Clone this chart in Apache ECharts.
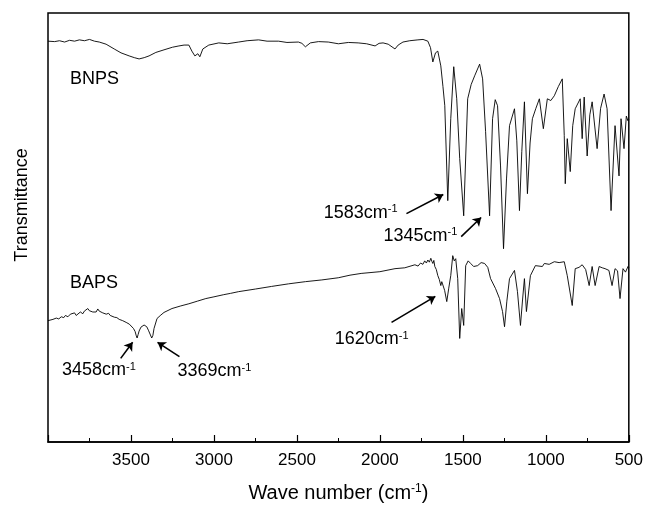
<!DOCTYPE html>
<html>
<head>
<meta charset="utf-8">
<script src="https://cdn.jsdelivr.net/npm/echarts@6/dist/echarts.min.js"></script>
<style>html,body{margin:0;padding:0;background:#fff}#c{width:646px;height:508px}</style>
</head>
<body>
<div id="c"></div>
<script>
// ---- Data (wavenumber in cm-1, transmittance in arbitrary units) ----
const bnpsWave = [4000,3960,3931,3900,3870,3840,3811,3780,3750,3720,3691,3650,3601,3560,3511,3480,3451,3420,3391,3350,3301,3250,3211,3180,3151,3133,3115,3097,3085,3067,3031,2971,2920,2851,2800,2731,2680,2611,2560,2491,2470,2449,2419,2370,2311,2250,2190,2131,2080,2029,2005,1981,1950,1909,1890,1861,1820,1771,1740,1711,1695,1681,1665,1651,1633,1620,1609,1591,1573,1555,1537,1519,1495,1471,1450,1429,1399,1381,1363,1339,1321,1305,1291,1273,1255,1237,1219,1189,1175,1159,1145,1129,1111,1095,1081,1060,1039,1015,991,970,949,925,901,889,883,871,853,838,823,793,781,769,751,735,721,691,670,649,631,607,583,559,547,529,515,505,500];
const bnpsT    = [93.5,93.4,93.6,93.3,93.7,93.5,93.8,93.6,93.9,93.5,93.3,92.8,91.7,90.8,90.1,89.7,89.4,89.7,90.1,90.9,91.5,92.1,92.4,92.6,92.6,91.2,90.1,90.6,89.9,91.7,92.6,93.1,92.9,93.3,93.6,93.8,93.5,93.5,93.2,93.3,93.0,92.2,93.1,93.4,93.3,92.9,93.2,93.1,92.9,92.4,93.0,93.1,92.8,91.7,92.6,93.3,93.6,93.8,93.9,93.5,92.0,88.7,90.8,91.2,87.8,83.0,78.6,56.7,75.6,87.6,80.2,66.4,53.2,80.2,83.5,85.5,88.2,84.8,72.6,53.2,75.6,80.0,78.6,64.7,45.6,61.7,74.0,77.9,70.5,54.4,68.0,79.5,58.3,70.0,75.6,78.0,80.2,73.3,80.2,79.8,80.9,83.0,84.8,71.7,60.6,71.0,63.4,74.0,77.9,80.2,71.0,80.6,67.0,76.5,79.5,68.7,78.0,81.3,77.9,54.4,74.0,62.4,75.6,68.7,76.2,75.1,75.4];

const bapsWave = [4000,3990,3970,3950,3935,3920,3905,3895,3880,3865,3853,3840,3830,3820,3805,3790,3781,3770,3760,3751,3740,3730,3721,3710,3700,3691,3680,3670,3660,3649,3635,3625,3613,3600,3585,3571,3550,3529,3510,3499,3485,3475,3468,3463,3457,3451,3440,3421,3405,3395,3385,3375,3368,3361,3343,3320,3301,3253,3200,3151,3100,3049,3000,2941,2900,2851,2750,2653,2550,2449,2350,2251,2180,2113,2000,1909,1850,1789,1770,1755,1741,1730,1720,1711,1702,1693,1687,1681,1675,1669,1660,1651,1642,1633,1627,1621,1610,1597,1585,1573,1561,1552,1543,1531,1519,1507,1495,1483,1468,1453,1435,1411,1390,1369,1350,1333,1303,1279,1261,1249,1235,1219,1189,1171,1153,1140,1129,1117,1093,1063,1021,1009,980,949,920,889,871,841,823,800,781,760,739,721,703,679,660,643,620,601,583,568,553,535,520,505,500];
const bapsT    = [29.0,29.1,29.3,29.6,29.4,29.9,29.7,30.2,29.9,30.5,30.3,30.8,30.2,30.6,31.0,30.6,31.2,31.0,31.8,31.3,31.6,31.0,31.4,31.0,31.7,31.2,31.4,30.8,31.1,30.5,30.7,30.2,30.4,29.8,29.7,29.3,29.0,28.6,28.2,27.8,27.2,26.5,25.5,25.0,25.8,26.6,27.5,28.0,27.6,26.8,25.9,25.0,25.6,27.2,29.5,30.3,30.9,31.8,32.4,32.9,33.5,34.1,34.5,35.0,35.3,35.7,36.3,36.9,37.5,38.0,38.4,38.9,39.5,39.9,40.3,41.0,41.2,41.9,41.6,42.3,42.0,42.8,42.3,43.0,42.5,43.4,42.7,42.2,42.9,41.5,40.8,39.4,38.5,37.1,38.0,37.6,36.0,33.4,36.5,39.4,44.0,42.8,43.3,38.7,24.9,31.8,27.9,41.7,42.8,42.2,41.5,41.7,42.4,42.2,41.3,38.7,36.4,34.1,31.1,27.6,33.5,38.7,40.6,35.7,27.9,34.0,38.7,31.1,39.4,41.7,41.5,42.2,42.0,42.6,42.4,42.6,39.4,32.5,41.0,41.3,41.9,40.8,37.1,41.5,37.1,41.5,41.2,41.0,40.6,37.1,41.0,40.5,34.1,41.0,40.2,41.5,41.3];

const tickValues = [3500,3000,2500,2000,1500,1000,500];

// annotation arrows: [fromWave, fromT, toWave, toT]
const arrows = [
  [1840,53.7,1618,58.1],
  [1510,48.4,1390,52.8],
  [1930,28.6,1666,34.6],
  [3562,20.3,3490,24.0],
  [3208,20.7,3340,24.0]
];
// annotation texts: [text, wave (left edge), T (middle)]
const notes = [
  ['BNPS',3868,84.8],
  ['BAPS',3868,37.8],
  ['3458cm{s|-1}',3916,17.5],
  ['3369cm{s|-1}',3220,17.3],
  ['1583cm{s|-1}',2338,53.9],
  ['1345cm{s|-1}',1978,48.6],
  ['1620cm{s|-1}',2272,24.7]
];

const FONT = 'Liberation Sans, Arial, Helvetica, sans-serif';
const zip = (a,b) => a.map((v,i)=>[v,b[i]]);

const chart = echarts.init(document.getElementById('c'), null, {renderer:'canvas'});
chart.setOption({
  animation:false,
  backgroundColor:'#fff',
  grid:{left:48,right:15,top:13,bottom:64,show:true,borderColor:'#000',borderWidth:1.5,backgroundColor:'transparent'},
  xAxis:{
    type:'value', inverse:true, min:500, max:4000, interval:500,
    axisLine:{lineStyle:{color:'#000',width:1.5}},
    axisTick:{inside:true,length:7,lineStyle:{color:'#000',width:1.2}},
    minorTick:{show:true,splitNumber:2,length:4,lineStyle:{color:'#000',width:1}},
    splitLine:{show:false},
    axisLabel:{color:'#000',fontSize:17,fontFamily:FONT,margin:10,
      formatter:v=> tickValues.indexOf(v)>=0 ? String(v) : ''},
    name:'Wave number (cm{s|-1})', nameLocation:'middle', nameGap:41,
    nameTextStyle:{color:'#000',fontSize:20,fontFamily:FONT,
      rich:{s:{fontSize:12,fontFamily:FONT,color:'#000',verticalAlign:'top',lineHeight:12}}}
  },
  yAxis:{type:'value',min:1,max:100,show:false},
  series:[
    {type:'line',data:zip(bnpsWave,bnpsT),showSymbol:false,symbol:'none',
     lineStyle:{color:'#000',width:0.9},silent:true},
    {type:'line',data:zip(bapsWave,bapsT),showSymbol:false,symbol:'none',
     lineStyle:{color:'#000',width:0.9},silent:true,
     markLine:{silent:true,symbol:['none','arrow'],symbolSize:8,
       label:{show:false},
       lineStyle:{color:'#000',width:1.6,type:'solid'},
       data:arrows.map(a=>[{coord:[a[0],a[1]]},{coord:[a[2],a[3]]}])}}
  ]
});

const g = notes.map(n=>{
  const p = chart.convertToPixel({gridIndex:0},[n[1],n[2]]);
  return {type:'text',x:p[0],y:p[1],silent:true,
    style:{text:n[0],fill:'#000',fontSize:18,fontFamily:FONT,verticalAlign:'middle',align:'left',
      rich:{s:{fontSize:11,fontFamily:FONT,fill:'#000',verticalAlign:'top',lineHeight:11}}}};
});
g.push({type:'text',x:22,y:205,rotation:Math.PI/2,silent:true,
  style:{text:'Transmittance',fill:'#000',fontSize:18,fontFamily:FONT,align:'center',verticalAlign:'middle'}});
chart.setOption({graphic:g});
</script>
</body>
</html>
